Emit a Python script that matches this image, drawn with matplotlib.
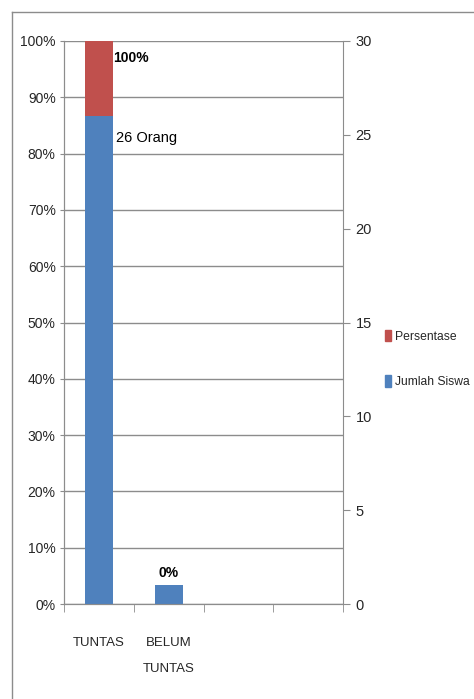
import matplotlib.pyplot as plt
from matplotlib.patches import Rectangle
from matplotlib.lines import Line2D
import numpy as np

categories = ["TUNTAS", "BELUM\nTUNTAS"]
persentase = [100, 0]
jumlah_siswa = [26, 1]
pct_labels = ["100%", "0%"]

blue = "#4F81BD"
red = "#C0504D"
grid_c = "#8C8C8C"
txt_c = "#262626"

plt.rcParams['font.family'] = ['Liberation Sans', 'DejaVu Sans']

fig = plt.figure(figsize=(4.74, 6.99), dpi=100)
# outer chart frame (only left and top edges visible in the crop)
fig.add_artist(Line2D([12/474, 12/474], [0, 1 - 12/699], color="#8C8C8C", lw=1))
fig.add_artist(Line2D([12/474, 1], [1 - 12/699, 1 - 12/699], color="#8C8C8C", lw=1))

ax = fig.add_axes([64/474, 1 - 604/699, (343 - 64)/474, (604 - 41)/699])
ax2 = ax.twinx()

x = np.arange(len(categories))
ax.bar(x, persentase, width=0.4, color=red, zorder=2)
ax2.bar(x, jumlah_siswa, width=0.4, color=blue, zorder=2)

ax.set_xlim(-0.5, 3.5)
ax.set_ylim(0, 100)
ax2.set_ylim(0, 30)
ax.set_yticks(np.arange(0, 101, 10))
ax.set_yticklabels([f"{v}%" for v in range(0, 101, 10)])
ax2.set_yticks(np.arange(0, 31, 5))
ax.grid(axis="y", color=grid_c, lw=1, zorder=0)
ax.set_axisbelow(True)

ax.set_xticks(x)
ax.set_xticklabels(categories, linespacing=2.5)
ax.set_xticks(np.arange(-0.5, 3.6, 1), minor=True)
ax.tick_params(axis="x", which="major", length=0, pad=24, labelsize=9.5, labelcolor=txt_c)
ax.tick_params(axis="x", which="minor", length=6, color=grid_c)
ax.tick_params(axis="y", length=3, color=grid_c, labelsize=10, labelcolor=txt_c, pad=3)
ax2.tick_params(axis="y", length=5, color=grid_c, labelsize=10.5, labelcolor=txt_c, pad=4)

for a in (ax, ax2):
    a.spines["top"].set_visible(False)
    for s in ("left", "right", "bottom"):
        a.spines[s].set_color(grid_c)
ax.spines["right"].set_visible(False)

ax.text(x[0] + 0.2, persentase[0] - 1.8, pct_labels[0], ha="left", va="top",
        fontsize=10, fontweight="bold", color="black")
ax2.text(x[0] + 0.24, jumlah_siswa[0] - 0.8, f"{jumlah_siswa[0]} Orang", ha="left", va="top",
         fontsize=10.5, color="black")
ax2.text(x[1], jumlah_siswa[1] + 0.3, pct_labels[1], ha="center", va="bottom",
         fontsize=10, fontweight="bold", color="black")

handles = [Rectangle((0, 0), 1, 1, color=red), Rectangle((0, 0), 1, 1, color=blue)]
fig.legend(handles, ["Persentase", "Jumlah Siswa"], loc="upper left",
           bbox_to_anchor=(381/474, 1 - 326/699), frameon=False, fontsize=8.7,
           handlelength=0.55, handleheight=1.1, handletextpad=0.3, labelspacing=2.7,
           borderaxespad=0, borderpad=0.3, labelcolor=txt_c)

fig.savefig("out.png", dpi=100)
